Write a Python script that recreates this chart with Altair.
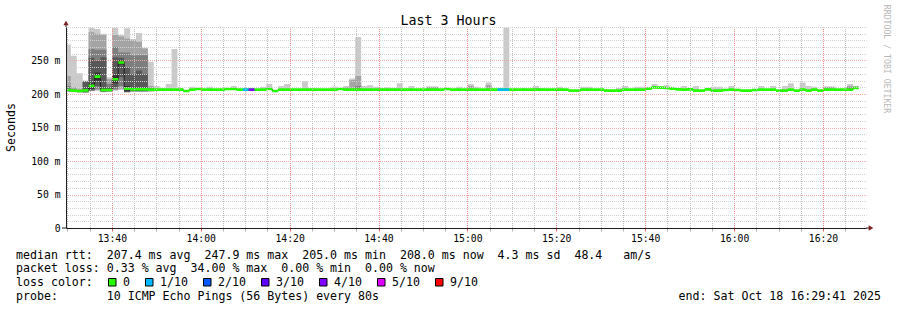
import altair as alt
import pandas as pd

# ---------------- data ----------------
first_step = "2025-10-18 13:29:26"   # start of the first (partly visible) 80 s step
step_seconds = 80
view_start = (13, 29, 41)
view_end = (16, 29, 41)

# median rtt per step (ms)
median_ms = [
    206, 205, 204.5, 205.5, 212, 226, 206, 206, 222, 247,
    208, 207, 207, 207, 206.5, 206.5, 206.5, 206.5, 206.5, 206.5,
    204.5, 206.5, 207.5, 206.5, 206.5, 206.5, 206.5, 207.5, 207.5, 206.5,
    206.5, 206.5, 206.5, 206.5, 207.5, 204.5, 206.5, 206.5, 206.5, 206.5,
    206.5, 206.5, 206.5, 206.5, 206.5, 206.5, 207.5, 206.5, 206.5, 206.5,
    206.5, 206.5, 206.5, 206.5, 206.5, 206.5, 206.5, 206.5, 206.5, 206.5,
    206.5, 206.5, 206.5, 206.5, 207.5, 206.5, 206.5, 206.5, 206.5, 206.5,
    206.5, 206.5, 206.5, 206.5, 206.5, 206.5, 206.5, 206.5, 206.5, 206.5,
    206.5, 206.5, 206.5, 206.5, 206.5, 205, 205, 206.5, 206.5, 206.5,
    206.5, 205, 205, 205, 206.5, 206.5, 206.5, 206.5, 208, 210,
    209.5, 209, 208, 207, 206.5, 207, 205, 205, 207, 205,
    205, 206, 206.5, 206, 205, 205, 206, 206.5, 206.5, 206.5,
    205, 205, 206.5, 205, 206.5, 205, 206.5, 205, 206.5, 206.5,
    206.5, 206.5, 206.5, 209,
]

# lost pings out of 10 per step
loss_of_10 = [
    0, 0, 0, 0, 0, 0, 0, 0, 0, 0,
    0, 0, 0, 0, 0, 0, 0, 0, 0, 0,
    0, 0, 0, 0, 0, 0, 0, 0, 0, 0,
    1, 3.4, 0, 0, 0, 0, 0, 0, 0, 0,
    0, 0, 0, 0, 0, 0, 0, 0, 0, 0,
    0, 0, 0, 0, 0, 0, 0, 0, 0, 0,
    0, 0, 0, 0, 0, 0, 0, 0, 0, 0,
    0, 0, 0, 1, 1, 0, 0, 0, 0, 0,
    0, 0, 0, 0, 0, 0, 0, 0, 0, 0,
    0, 0, 0, 0, 0, 0, 0, 0, 0, 0,
    0, 0, 0, 0, 0, 0, 0, 0, 0, 0,
    0, 0, 0, 0, 0, 0, 0, 0, 0, 0,
    0, 0, 0, 0, 0, 0, 0, 0, 0, 0,
    0, 0, 0, 0,
]

# sorted ping times per step (ms): ping10 = slowest ... ping01 = fastest
ping10 = [
    274, 257, 231, 220, 299, 297, 290, 225, 299, 288,
    298, 282, 291, 269, 248, 212, 209, 215, 267, 209,
    204.5, 211, 207.5, 206.5, 211, 206.5, 206.5, 207.5, 212, 206.5,
    206.5, 206.5, 206.5, 211, 215, 204.5, 212, 215, 206.5, 206.5,
    219, 209, 206.5, 206.5, 206.5, 211, 207.5, 212, 223, 285,
    212, 213, 211, 209, 210, 209, 216, 206.5, 212, 206.5,
    206.5, 211, 211, 206.5, 207.5, 206.5, 211, 206.5, 215, 211,
    206.5, 217, 206.5, 206.5, 299, 206.5, 206.5, 209, 206.5, 212,
    209, 206.5, 206.5, 211, 206.5, 205, 205, 211, 211, 206.5,
    206.5, 205, 205, 209, 212, 206.5, 211, 211, 210, 215,
    212, 213, 211, 209, 212, 209, 212, 205, 209, 211,
    211, 208, 212, 208, 205, 205, 208, 212, 206.5, 212,
    205, 212, 216, 205, 217, 212, 211, 205, 211, 211,
    206.5, 206.5, 215, 212,
]
ping09 = [
    227, 210, 208, 219.5, 292, 290, 288, 222, 288, 286,
    283, 280, 278, 268, 212, 206.5, 206.5, 206.5, 206.5, 206.5,
    204.5, 206.5, 207.5, 206.5, 206.5, 206.5, 206.5, 207.5, 207.5, 206.5,
    206.5, 206.5, 206.5, 206.5, 207.5, 204.5, 206.5, 206.5, 206.5, 206.5,
    206.5, 206.5, 206.5, 206.5, 206.5, 206.5, 207.5, 210, 221, 227,
    206.5, 206.5, 206.5, 206.5, 206.5, 206.5, 206.5, 206.5, 206.5, 206.5,
    206.5, 211, 211, 206.5, 207.5, 206.5, 206.5, 206.5, 212, 206.5,
    206.5, 213, 206.5, 206.5, 206.5, 206.5, 206.5, 206.5, 206.5, 209,
    206.5, 206.5, 206.5, 206.5, 206.5, 205, 205, 206.5, 206.5, 206.5,
    206.5, 205, 205, 205, 206.5, 206.5, 206.5, 206.5, 208, 210,
    209.5, 209, 208, 207, 206.5, 207, 205, 205, 207, 205,
    205, 206, 206.5, 206, 205, 205, 206, 206.5, 206.5, 206.5,
    205, 205, 206.5, 205, 206.5, 205, 206.5, 205, 211, 211,
    206.5, 206.5, 212, 211,
]
ping08 = [
    212, 207, 206, 219, 267, 266, 266, 215, 270, 262,
    262, 258, 258, 258, 209, 206.5, 206.5, 206.5, 206.5, 206.5,
    204.5, 206.5, 207.5, 206.5, 206.5, 206.5, 206.5, 207.5, 207.5, 206.5,
    206.5, 206.5, 206.5, 206.5, 207.5, 204.5, 206.5, 206.5, 206.5, 206.5,
    206.5, 206.5, 206.5, 206.5, 206.5, 206.5, 207.5, 206.5, 206.5, 212,
    206.5, 206.5, 206.5, 206.5, 206.5, 206.5, 206.5, 206.5, 206.5, 206.5,
    206.5, 206.5, 206.5, 206.5, 207.5, 206.5, 206.5, 206.5, 206.5, 206.5,
    206.5, 206.5, 206.5, 206.5, 206.5, 206.5, 206.5, 206.5, 206.5, 206.5,
    206.5, 206.5, 206.5, 206.5, 206.5, 205, 205, 206.5, 206.5, 206.5,
    206.5, 205, 205, 205, 206.5, 206.5, 206.5, 206.5, 208, 210,
    209.5, 209, 208, 207, 206.5, 207, 205, 205, 207, 205,
    205, 206, 206.5, 206, 205, 205, 206, 206.5, 206.5, 206.5,
    205, 205, 206.5, 205, 206.5, 205, 206.5, 205, 206.5, 206.5,
    206.5, 206.5, 210, 211,
]
ping07 = [
    208, 206, 205.5, 218, 254, 250, 255, 210, 255, 254,
    240, 230, 235, 230, 208, 206.5, 206.5, 206.5, 206.5, 206.5,
    204.5, 206.5, 207.5, 206.5, 206.5, 206.5, 206.5, 207.5, 207.5, 206.5,
    206.5, 206.5, 206.5, 206.5, 207.5, 204.5, 206.5, 206.5, 206.5, 206.5,
    206.5, 206.5, 206.5, 206.5, 206.5, 206.5, 207.5, 206.5, 206.5, 206.5,
    206.5, 206.5, 206.5, 206.5, 206.5, 206.5, 206.5, 206.5, 206.5, 206.5,
    206.5, 206.5, 206.5, 206.5, 207.5, 206.5, 206.5, 206.5, 206.5, 206.5,
    206.5, 206.5, 206.5, 206.5, 206.5, 206.5, 206.5, 206.5, 206.5, 206.5,
    206.5, 206.5, 206.5, 206.5, 206.5, 205, 205, 206.5, 206.5, 206.5,
    206.5, 205, 205, 205, 206.5, 206.5, 206.5, 206.5, 208, 210,
    209.5, 209, 208, 207, 206.5, 207, 205, 205, 207, 205,
    205, 206, 206.5, 206, 205, 205, 206, 206.5, 206.5, 206.5,
    205, 205, 206.5, 205, 206.5, 205, 206.5, 205, 206.5, 206.5,
    206.5, 206.5, 206.5, 210,
]
ping06 = [
    207, 205.5, 205, 207, 216, 232, 207.5, 207, 228, 250,
    212, 209, 209, 209, 207.5, 206.5, 206.5, 206.5, 206.5, 206.5,
    204.5, 206.5, 207.5, 206.5, 206.5, 206.5, 206.5, 207.5, 207.5, 206.5,
    206.5, 206.5, 206.5, 206.5, 207.5, 204.5, 206.5, 206.5, 206.5, 206.5,
    206.5, 206.5, 206.5, 206.5, 206.5, 206.5, 207.5, 206.5, 206.5, 206.5,
    206.5, 206.5, 206.5, 206.5, 206.5, 206.5, 206.5, 206.5, 206.5, 206.5,
    206.5, 206.5, 206.5, 206.5, 207.5, 206.5, 206.5, 206.5, 206.5, 206.5,
    206.5, 206.5, 206.5, 206.5, 206.5, 206.5, 206.5, 206.5, 206.5, 206.5,
    206.5, 206.5, 206.5, 206.5, 206.5, 205, 205, 206.5, 206.5, 206.5,
    206.5, 205, 205, 205, 206.5, 206.5, 206.5, 206.5, 208, 210,
    209.5, 209, 208, 207, 206.5, 207, 205, 205, 207, 205,
    205, 206, 206.5, 206, 205, 205, 206, 206.5, 206.5, 206.5,
    205, 205, 206.5, 205, 206.5, 205, 206.5, 205, 206.5, 206.5,
    206.5, 206.5, 206.5, 209,
]
ping05 = [
    205, 204.5, 204, 204, 208, 220, 204.5, 205, 216, 244,
    204, 205, 205, 205, 205.5, 206.5, 206.5, 206.5, 206.5, 206.5,
    204.5, 206.5, 207.5, 206.5, 206.5, 206.5, 206.5, 207.5, 207.5, 206.5,
    206.5, 206.5, 206.5, 206.5, 207.5, 204.5, 206.5, 206.5, 206.5, 206.5,
    206.5, 206.5, 206.5, 206.5, 206.5, 206.5, 207.5, 206.5, 206.5, 206.5,
    206.5, 206.5, 206.5, 206.5, 206.5, 206.5, 206.5, 206.5, 206.5, 206.5,
    206.5, 206.5, 206.5, 206.5, 207.5, 206.5, 206.5, 206.5, 206.5, 206.5,
    206.5, 206.5, 206.5, 206.5, 206.5, 206.5, 206.5, 206.5, 206.5, 206.5,
    206.5, 206.5, 206.5, 206.5, 206.5, 205, 205, 206.5, 206.5, 206.5,
    206.5, 205, 205, 205, 206.5, 206.5, 206.5, 206.5, 208, 210,
    209.5, 209, 208, 207, 206.5, 207, 205, 205, 207, 205,
    205, 206, 206.5, 206, 205, 205, 206, 206.5, 206.5, 206.5,
    205, 205, 206.5, 205, 206.5, 205, 206.5, 205, 206.5, 206.5,
    206.5, 206.5, 206.5, 209,
]
ping04 = [
    204.5, 204, 203.5, 203, 206, 212, 204, 204.5, 210, 225,
    203.5, 204.5, 204.5, 204.5, 205, 206.5, 206.5, 206.5, 206.5, 206.5,
    204.5, 206.5, 207.5, 206.5, 206.5, 206.5, 206.5, 207.5, 207.5, 206.5,
    206.5, 206.5, 206.5, 206.5, 207.5, 204.5, 206.5, 206.5, 206.5, 206.5,
    206.5, 206.5, 206.5, 206.5, 206.5, 206.5, 207.5, 206.5, 206.5, 206.5,
    206.5, 206.5, 206.5, 206.5, 206.5, 206.5, 206.5, 206.5, 206.5, 206.5,
    206.5, 206.5, 206.5, 206.5, 207.5, 206.5, 206.5, 206.5, 206.5, 206.5,
    206.5, 206.5, 206.5, 206.5, 206.5, 206.5, 206.5, 206.5, 206.5, 206.5,
    206.5, 206.5, 206.5, 206.5, 206.5, 205, 205, 206.5, 206.5, 206.5,
    206.5, 205, 205, 205, 206.5, 206.5, 206.5, 206.5, 208, 210,
    209.5, 209, 208, 207, 206.5, 207, 205, 205, 207, 205,
    205, 206, 206.5, 206, 205, 205, 206, 206.5, 206.5, 206.5,
    205, 205, 206.5, 205, 206.5, 205, 206.5, 205, 206.5, 206.5,
    206.5, 206.5, 206.5, 209,
]
ping03 = [
    204, 203.5, 203, 202.5, 205, 208, 203.5, 204, 207, 212,
    203, 204, 204, 204, 204.5, 206.5, 206.5, 206.5, 206.5, 206.5,
    204.5, 206.5, 207.5, 206.5, 206.5, 206.5, 206.5, 207.5, 207.5, 206.5,
    206.5, 206.5, 206.5, 206.5, 207.5, 204.5, 206.5, 206.5, 206.5, 206.5,
    206.5, 206.5, 206.5, 206.5, 206.5, 206.5, 207.5, 206.5, 206.5, 206.5,
    206.5, 206.5, 206.5, 206.5, 206.5, 206.5, 206.5, 206.5, 206.5, 206.5,
    206.5, 206.5, 206.5, 206.5, 207.5, 206.5, 206.5, 206.5, 206.5, 206.5,
    206.5, 206.5, 206.5, 206.5, 206.5, 206.5, 206.5, 206.5, 206.5, 206.5,
    206.5, 206.5, 206.5, 206.5, 206.5, 205, 205, 206.5, 206.5, 206.5,
    206.5, 205, 205, 205, 206.5, 206.5, 206.5, 206.5, 208, 210,
    209.5, 209, 208, 207, 206.5, 207, 205, 205, 207, 205,
    205, 206, 206.5, 206, 205, 205, 206, 206.5, 206.5, 206.5,
    205, 205, 206.5, 205, 206.5, 205, 206.5, 205, 206.5, 206.5,
    206.5, 206.5, 206.5, 209,
]
ping02 = [
    203.5, 203, 202.5, 202, 204.5, 206, 203, 203.5, 206, 208,
    202.5, 203.5, 203.5, 203.5, 204, 206.5, 206.5, 206.5, 206.5, 206.5,
    204.5, 206.5, 207.5, 206.5, 206.5, 206.5, 206.5, 207.5, 207.5, 206.5,
    206.5, 206.5, 206.5, 206.5, 207.5, 204.5, 206.5, 206.5, 206.5, 206.5,
    206.5, 206.5, 206.5, 206.5, 206.5, 206.5, 207.5, 206.5, 206.5, 206.5,
    206.5, 206.5, 206.5, 206.5, 206.5, 206.5, 206.5, 206.5, 206.5, 206.5,
    206.5, 206.5, 206.5, 206.5, 207.5, 206.5, 206.5, 206.5, 206.5, 206.5,
    206.5, 206.5, 206.5, 206.5, 206.5, 206.5, 206.5, 206.5, 206.5, 206.5,
    206.5, 206.5, 206.5, 206.5, 206.5, 205, 205, 206.5, 206.5, 206.5,
    206.5, 205, 205, 205, 206.5, 206.5, 206.5, 206.5, 208, 210,
    209.5, 209, 208, 207, 206.5, 207, 205, 205, 207, 205,
    205, 206, 206.5, 206, 205, 205, 206, 206.5, 206.5, 206.5,
    205, 205, 206.5, 205, 206.5, 205, 206.5, 205, 206.5, 206.5,
    206.5, 206.5, 206.5, 209,
]
ping01 = [
    203, 202.5, 202, 201.5, 204, 205, 202.5, 203, 205, 206,
    202, 203, 203, 203, 203.5, 206.5, 206.5, 206.5, 206.5, 206.5,
    204.5, 206.5, 207.5, 206.5, 206.5, 206.5, 206.5, 207.5, 207.5, 206.5,
    206.5, 206.5, 206.5, 206.5, 207.5, 204.5, 206.5, 206.5, 206.5, 206.5,
    206.5, 206.5, 206.5, 206.5, 206.5, 206.5, 207.5, 206.5, 206.5, 206.5,
    206.5, 206.5, 206.5, 206.5, 206.5, 206.5, 206.5, 206.5, 206.5, 206.5,
    206.5, 206.5, 206.5, 206.5, 207.5, 206.5, 206.5, 206.5, 206.5, 206.5,
    206.5, 206.5, 206.5, 206.5, 206.5, 206.5, 206.5, 206.5, 206.5, 206.5,
    206.5, 206.5, 206.5, 206.5, 206.5, 205, 205, 206.5, 206.5, 206.5,
    206.5, 205, 205, 205, 206.5, 206.5, 206.5, 206.5, 208, 210,
    209.5, 209, 208, 207, 206.5, 207, 205, 205, 207, 205,
    205, 206, 206.5, 206, 205, 205, 206, 206.5, 206.5, 206.5,
    205, 205, 206.5, 205, 206.5, 205, 206.5, 205, 206.5, 206.5,
    206.5, 206.5, 206.5, 209,
]

loss_labels = ["0", "1/10", "2/10", "3/10", "4/10", "5/10", "9/10"]
loss_colors = ["#26ff00", "#00b8ff", "#0059ff", "#5e00ff", "#7e00ff", "#dd00ff", "#ff0000"]
loss_upper = [0, 1, 2, 3, 4, 5, 10]
smoke_shades = ["#cacaca", "#a4a4a4", "#7e7e7e", "#585858", "#323232"]

title_text = "Last 3 Hours"
y_title = "Seconds"
watermark = "RRDTOOL / TOBI OETIKER"
legend_median = "median rtt:  207.4 ms avg  247.9 ms max  205.0 ms min  208.0 ms now  4.3 ms sd  48.4   am/s"
legend_loss = "packet loss: 0.33 % avg  34.00 % max  0.00 % min  0.00 % now"
legend_color = "loss color:"
legend_probe = "probe:       10 ICMP Echo Pings (56 Bytes) every 80s"
legend_end = "end: Sat Oct 18 16:29:41 2025"

# ---------------- layout ----------------
OX, OY = 66, 27          # plot origin on the page
PW, PH = 800, 201        # plot size
MONO = "DejaVu Sans Mono"
AXIS_COL = "#1f1f1f"
ARROW_COL = "#7f1f1f"
BAND_HALF = 2.0          # half height of the median band (ms)

n = len(median_ms)
times = pd.date_range(first_step, periods=n + 1, freq=f"{step_seconds}s")


def dt(h, m, s=0):
    return alt.DateTime(year=2025, month=10, date=18, hours=h, minutes=m, seconds=s)


x_ticks = []
hh, mm = 13, 30
while (hh, mm) <= (16, 25):
    x_ticks.append(dt(hh, mm))
    mm += 5
    if mm == 60:
        hh, mm = hh + 1, 0

major_x = "minutes(datum.value) % 20 === 0"
x_axis = alt.Axis(
    values=x_ticks,
    labelExpr=f"{major_x} ? timeFormat(datum.value, '%H:%M') : ''",
    grid=True,
    gridColor={"condition": {"test": major_x, "value": "#ec8a8a"}, "value": "#bcbcbc"},
    gridDash=[1, 1],
    gridDashOffset=0.5,
    gridWidth=1,
    gridOpacity=1,
    ticks=True,
    tickSize=3,
    tickColor={"condition": {"test": major_x, "value": "#e06060"}, "value": "#b0b0b0"},
    labelFont=MONO,
    labelFontSize=9.75,
    labelColor="#000000",
    labelPadding=10,
    labelBaseline="alphabetic",
    labelFlush=False,
    labelOverlap=False,
    domainColor=AXIS_COL,
    domainWidth=1,
    title=None,
    zindex=1,
)
major_y = "datum.value % 50 === 0 && datum.value < 300"
y_axis = alt.Axis(
    values=list(range(0, 301, 10)),
    labelExpr=f"{major_y} ? (datum.value === 0 ? '0\u00a0\u00a0' : datum.value + '\u00a0m') : ''",
    grid=True,
    gridColor={"condition": {"test": major_y, "value": "#f3a8a8"}, "value": "#d2d2d2"},
    gridDash=[1, 1],
    gridDashOffset=0.5,
    gridWidth=1,
    gridOpacity=1,
    ticks=False,
    labelPadding=6,
    labelFont=MONO,
    labelFontSize=9.75,
    labelColor="#000000",
    labelBaseline="middle",
    labelFlush=False,
    labelOverlap=False,
    domainColor=AXIS_COL,
    domainWidth=1,
    title=None,
    zindex=1,
)
x_scale = alt.Scale(domain=[dt(*view_start), dt(*view_end)])
y_scale = alt.Scale(domain=[0, 300], nice=False, zero=True)


def X(field):
    return alt.X(field, type="temporal", scale=x_scale, axis=x_axis)


def Y(field):
    return alt.Y(field, type="quantitative", scale=y_scale, axis=y_axis)


def step_frame(lo, hi):
    return pd.DataFrame({"t": times, "lo": list(lo) + [lo[-1]], "hi": list(hi) + [hi[-1]]})


pings = [ping01, ping02, ping03, ping04, ping05, ping06, ping07, ping08, ping09, ping10]
layers = []
# smoke: pair (i, 11-i) drawn lightest (outer) to darkest (inner)
for i, shade in enumerate(smoke_shades):
    df = step_frame(pings[i], pings[9 - i])
    layers.append(
        alt.Chart(df).mark_area(interpolate="step-after", color=shade, opacity=1, clip=True).encode(
            x=X("t"), y=Y("lo"), y2="hi"
        )
    )

# median line (dark) then loss-coloured band
line_df = pd.DataFrame({"t": times, "m": median_ms + [median_ms[-1]]})
layers.append(
    alt.Chart(line_df).mark_line(interpolate="step-after", color="#202020", strokeWidth=1, clip=True).encode(
        x=X("t"), y=Y("m")
    )
)
band_df = step_frame([v - BAND_HALF for v in median_ms], [v + BAND_HALF for v in median_ms])
layers.append(
    alt.Chart(band_df).mark_area(interpolate="step-after", color=loss_colors[0], opacity=1, clip=True).encode(
        x=X("t"), y=Y("lo"), y2="hi"
    )
)


def loss_color(v):
    for up, col in zip(loss_upper, loss_colors):
        if v <= up:
            return col
    return loss_colors[-1]


lossy = [k for k in range(n) if loss_of_10[k] > 0]
loss_df = pd.DataFrame({
    "t0": [times[k] for k in lossy],
    "t1": [times[k + 1] for k in lossy],
    "lo": [median_ms[k] - BAND_HALF for k in lossy],
    "hi": [median_ms[k] + BAND_HALF for k in lossy],
    "col": [loss_color(loss_of_10[k]) for k in lossy],
})
layers.append(
    alt.Chart(loss_df).mark_rect(clip=True, opacity=1).encode(
        x=X("t0"), x2="t1", y=Y("lo"), y2="hi", color=alt.Color("col:N", scale=None)
    )
)

# axis line extensions and arrows
end_df = pd.DataFrame({"t": [pd.Timestamp(2025, 10, 18, *view_end)], "v": [0]})
start0_df = pd.DataFrame({"t": [pd.Timestamp(2025, 10, 18, *view_start)], "v": [0]})
top_df = pd.DataFrame({"t": [pd.Timestamp(2025, 10, 18, *view_start)], "v": [300]})
layers.append(
    alt.Chart(end_df).mark_rule(color=AXIS_COL, strokeWidth=1, x2Offset=4).encode(x=X("t"), x2="t", y=Y("v"))
)
layers.append(
    alt.Chart(start0_df).mark_rule(color=AXIS_COL, strokeWidth=1, x2Offset=-4).encode(x=X("t"), x2="t", y=Y("v"))
)
layers.append(
    alt.Chart(top_df).mark_rule(color=AXIS_COL, strokeWidth=1, y2Offset=-4).encode(x=X("t"), y=Y("v"), y2="v")
)
layers.append(
    alt.Chart(end_df).mark_point(shape="triangle-right", filled=True, size=28, color=ARROW_COL, opacity=1, xOffset=5).encode(
        x=X("t"), y=Y("v")
    )
)
layers.append(
    alt.Chart(top_df).mark_point(shape="triangle-up", filled=True, size=28, color=ARROW_COL, opacity=1, yOffset=-4).encode(
        x=X("t"), y=Y("v")
    )
)


def text_layer(s, px, py, size=11.6, color="#000000", align="left", baseline="alphabetic", angle=0):
    return alt.Chart(pd.DataFrame({"s": [s.replace(" ", "\u00a0")]})).mark_text(
        font=MONO, fontSize=size, color=color, align=align, baseline=baseline, angle=angle
    ).encode(x=alt.value(px - OX), y=alt.value(py - OY), text="s:N")


layers.append(text_layer(title_text, 448.5, 24.5, size=13.3, align="center"))
layers.append(text_layer(y_title, 11.5, 127.5, size=11.6, align="center", baseline="middle", angle=270))
layers.append(text_layer(watermark, 886, 59, size=8.2, color="#b8b8b8", align="center", baseline="middle", angle=90))
layers.append(text_layer(legend_median, 16, 258.5))
layers.append(text_layer(legend_loss, 16, 272.3))
layers.append(text_layer(legend_color, 16, 286.1))
layers.append(text_layer(legend_probe, 16, 299.8))
layers.append(text_layer(legend_end, 881, 299.8, align="right"))

# loss colour legend swatches and labels
sw_x, cursor = [], 108
for lab in loss_labels:
    sw_x.append(cursor)
    cursor += 30 + 7 * len(lab)
sw_df = pd.DataFrame({
    "x0": [x - OX + 0.5 for x in sw_x],
    "x1": [x - OX + 8 for x in sw_x],
    "y0": [278.5 - OY] * len(sw_x),
    "y1": [286 - OY] * len(sw_x),
    "xl": [x - OX + 15 for x in sw_x],
    "yl": [286.1 - OY] * len(sw_x),
    "col": loss_colors,
    "lab": loss_labels,
})
layers.append(
    alt.Chart(sw_df).mark_rect(stroke="#000000", strokeWidth=1, opacity=1).encode(
        x=alt.X("x0:Q", scale=None), x2="x1:Q", y=alt.Y("y0:Q", scale=None), y2="y1:Q",
        fill=alt.Fill("col:N", scale=None),
    )
)
layers.append(
    alt.Chart(sw_df).mark_text(font=MONO, fontSize=11.6, color="#000000", align="left", baseline="alphabetic").encode(
        x=alt.X("xl:Q", scale=None), y=alt.Y("yl:Q", scale=None), text="lab:N"
    )
)

chart = (
    alt.layer(*layers)
    .properties(
        width=PW,
        height=PH,
        padding={"left": OX, "top": OY, "right": 897 - OX - PW, "bottom": 310 - OY - PH},
        autosize=alt.AutoSizeParams(type="none"),
        background="#ffffff",
    )
    .configure_view(stroke=None)
)

chart.save("out.html", embed_options={"renderer": "svg", "actions": False})
